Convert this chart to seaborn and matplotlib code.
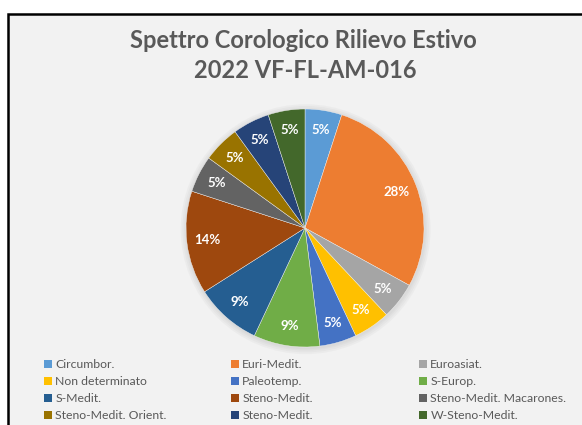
import matplotlib.pyplot as plt
import matplotlib.patches as mpatches
import numpy as np
import pandas as pd
import seaborn as sns

# %% data

categories = [
    "Circumbor.",
    "Euri-Medit.",
    "Euroasiat.",
    "Non determinato",
    "Paleotemp.",
    "S-Europ.",
    "S-Medit.",
    "Steno-Medit.",
    "Steno-Medit. Macarones.",
    "Steno-Medit. Orient.",
    "Steno-Medit.",
    "W-Steno-Medit.",
]
shares = [5, 28, 5, 5, 5, 9, 9, 14, 5, 5, 5, 5]
colors = [
    "#5B9BD5", "#ED7D31", "#A5A5A5", "#FFC000", "#4472C4", "#70AD47",
    "#255E91", "#9E480E", "#636363", "#997300", "#264478", "#43682B",
]
title_lines = ["Spettro Corologico Rilievo Estivo", "2022 VF-FL-AM-016"]

df = pd.DataFrame({"category": categories, "share": shares})

# %% plot

sns.set_style("white")
plt.rcParams["font.family"] = ["Lato", "DejaVu Sans"]
palette = sns.color_palette(colors)

fig = plt.figure(figsize=(5.82, 4.25), dpi=100)
fig.patch.set_facecolor("white")

# chart area frame
frame = mpatches.Rectangle(
    (8 / 582, -0.05), 1.2, 1 - 14 / 425 + 0.05,
    transform=fig.transFigure, facecolor="#f2f2f2", edgecolor="black",
    linewidth=1.8, zorder=-10,
)
fig.patches.append(frame)

# title
fig.text(0.522, 1 - 40 / 425, title_lines[0], ha="center", va="center",
         fontsize=17, fontweight="bold", color="#595959")
fig.text(0.525, 1 - 71 / 425, title_lines[1], ha="center", va="center",
         fontsize=17, fontweight="bold", color="#595959")

# pie
ax = fig.add_axes([305 / 582 - 119 / 582, 1 - 228 / 425 - 119 / 425,
                   238 / 582, 238 / 425], zorder=2)
ax.set_facecolor("none")

# soft shadow behind the pie
for r in [1.05, 1.035, 1.02, 1.008]:
    ax.add_patch(mpatches.Circle((0.005, -0.01), r, facecolor="#9a9a9a",
                                 edgecolor="none", alpha=0.07, clip_on=False,
                                 zorder=0))

wedges, texts, autotexts = ax.pie(
    df["share"],
    colors=palette,
    startangle=90,
    counterclock=False,
    autopct=lambda p: f"{p:.0f}%",
    pctdistance=0.83,
    radius=1,
    wedgeprops=dict(linewidth=0.3, edgecolor="#f2f2f2", zorder=1),
    textprops=dict(color="white", fontsize=9.5, fontweight="bold"),
)
ax.set_xlim(-1, 1)
ax.set_ylim(-1, 1)
ax.set_aspect("equal")
ax.axis("off")

# legend, three columns filled row-wise
handles = [mpatches.Patch(facecolor=c, edgecolor="none") for c in palette]
col_x = [44 / 582, 231 / 582, 419 / 582]
for j in range(3):
    leg = fig.legend(
        handles[j::3], categories[j::3],
        loc="upper left", bbox_to_anchor=(col_x[j], 1 - 359 / 425),
        frameon=False, fontsize=8.8, borderpad=0, borderaxespad=0,
        handlelength=0.68, handleheight=0.68, handletextpad=0.25,
        labelspacing=0.5,
    )
    for t in leg.get_texts():
        t.set_color("#595959")

fig.savefig("out.png", dpi=100)
